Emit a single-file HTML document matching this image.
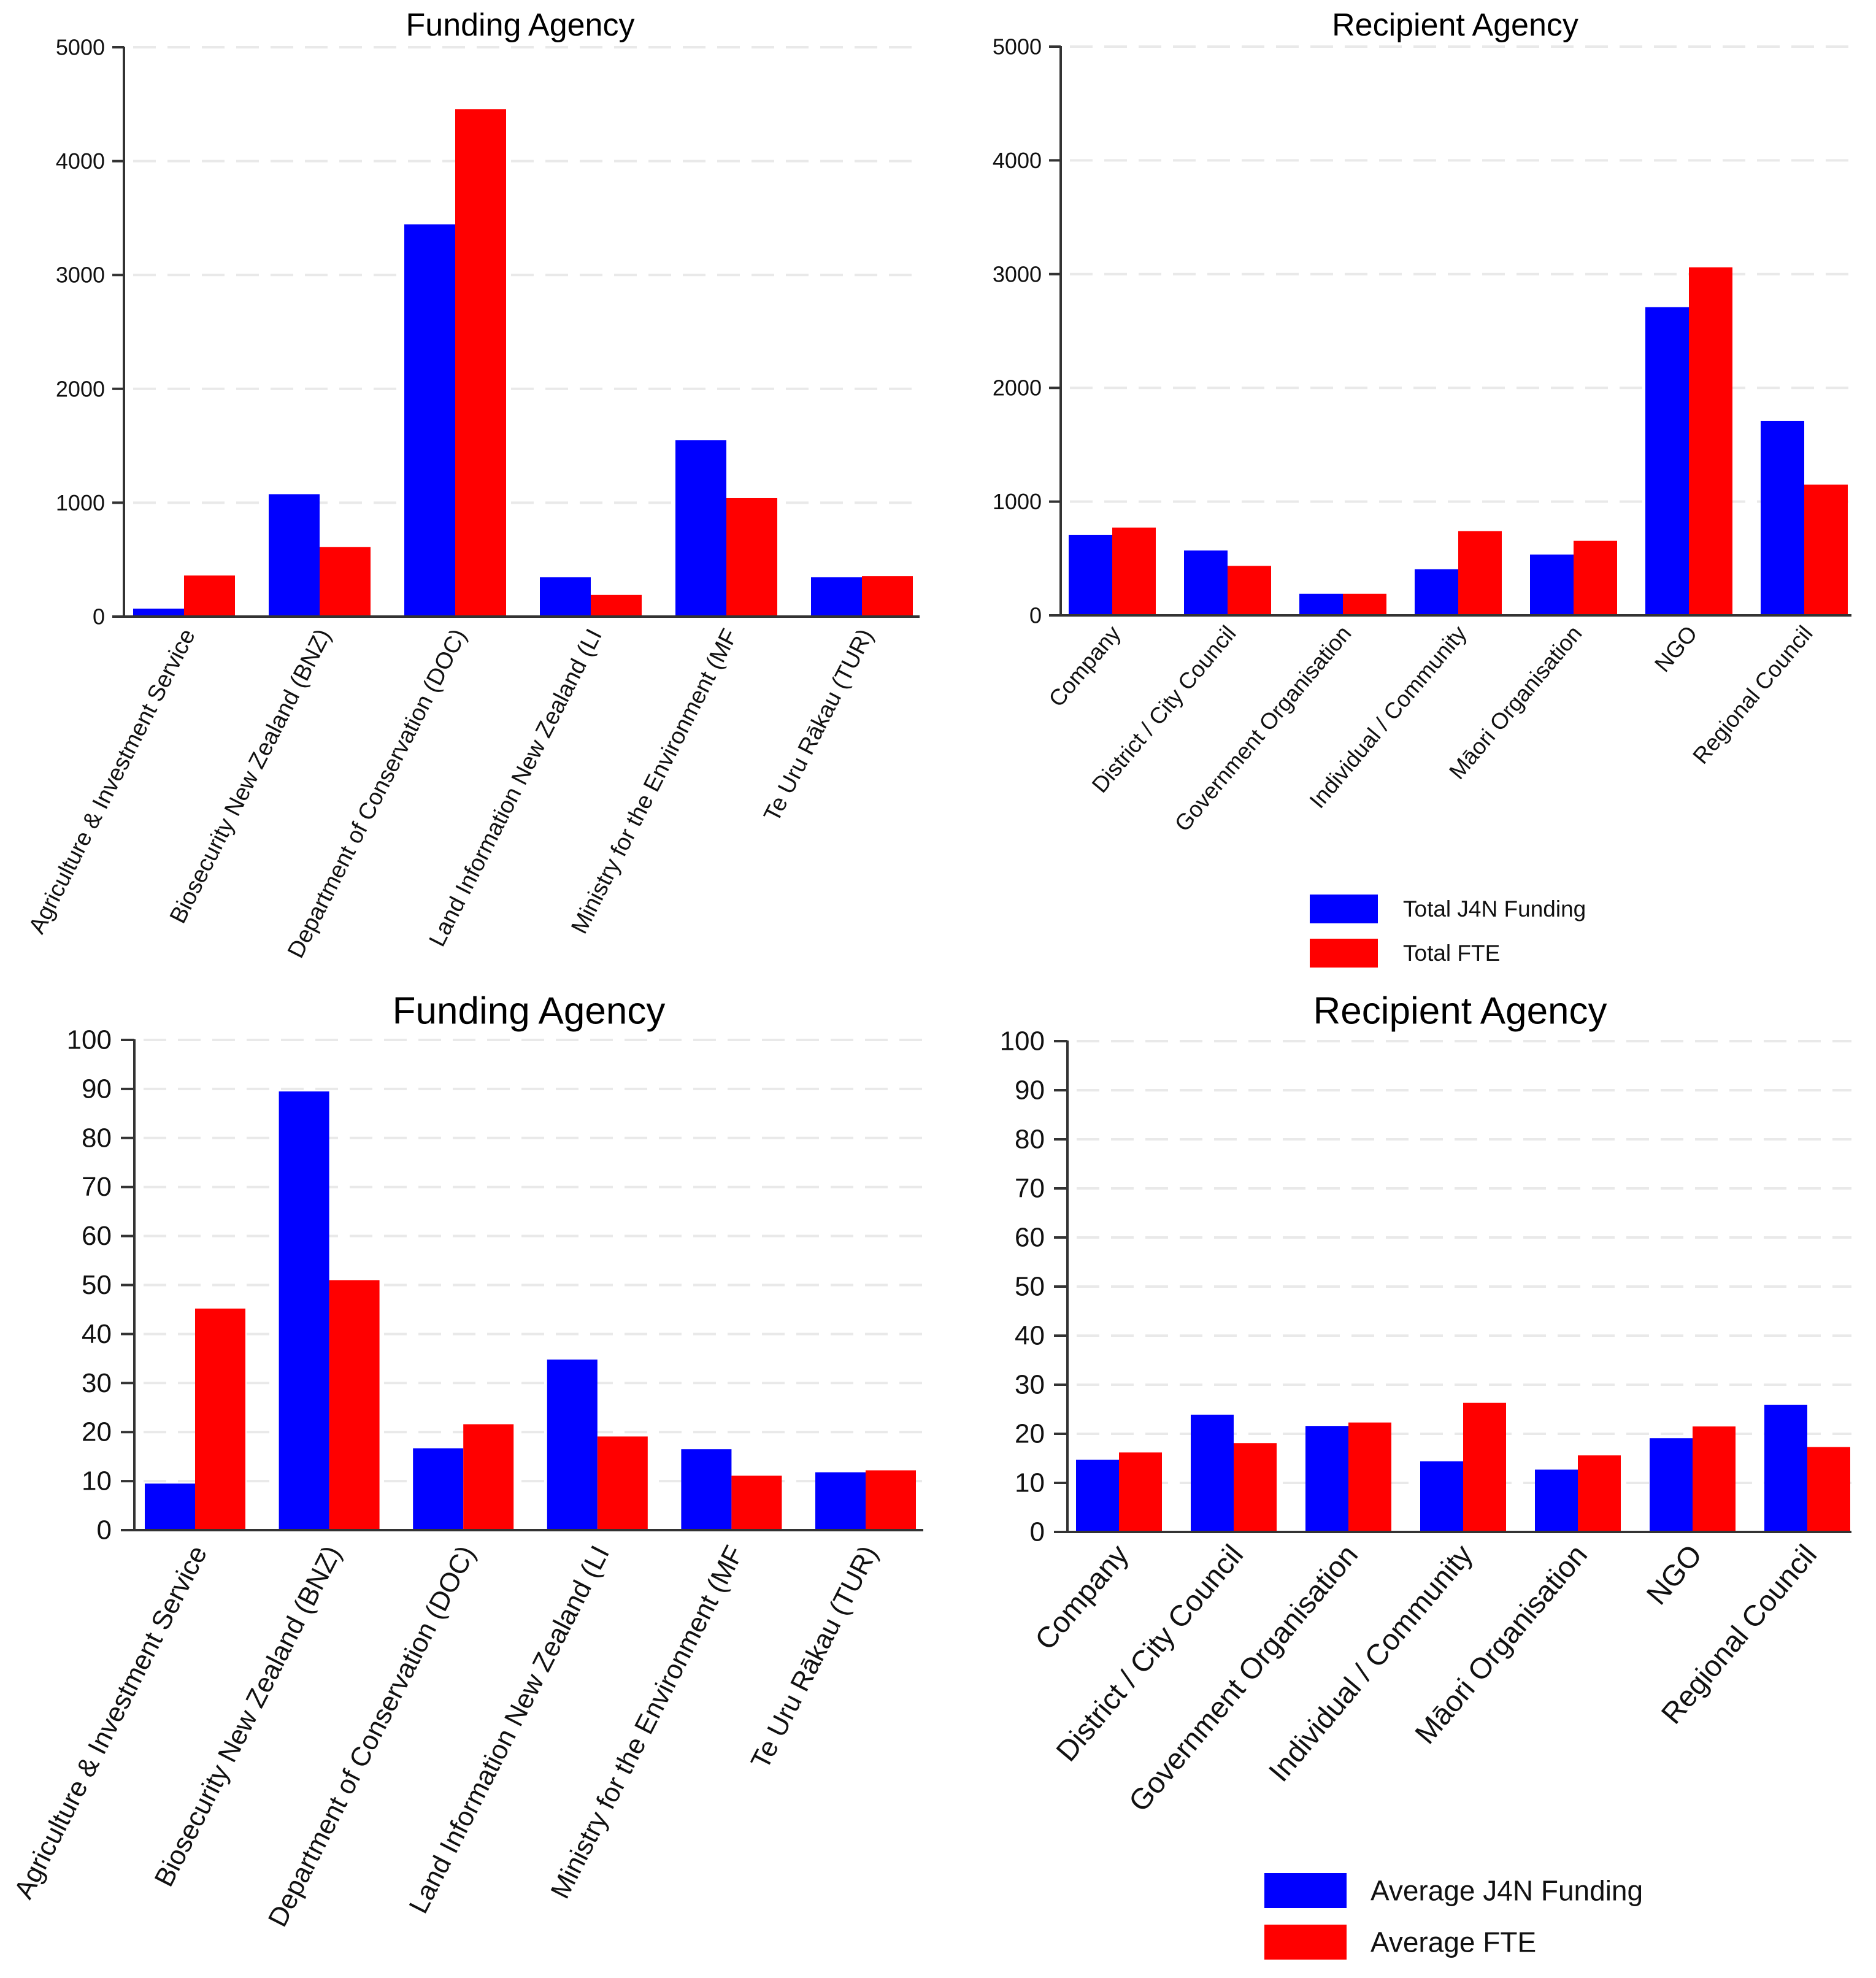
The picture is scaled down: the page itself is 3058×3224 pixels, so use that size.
<!DOCTYPE html>
<html><head><meta charset="utf-8"><style>
html,body{margin:0;padding:0;background:#fff;}
svg{display:block;font-family:"Liberation Sans",Arial,sans-serif;}
</style></head><body>
<svg id="root" width="3058" height="3224" viewBox="0 0 3058 3224" xmlns="http://www.w3.org/2000/svg"></svg>
<script>
const fundingCats = ["Agriculture & Investment Service","Biosecurity New Zealand (BNZ)","Department of Conservation (DOC)","Land Information New Zealand (LI","Ministry for the Environment (MF","Te Uru Rākau (TUR)"];
const recipientCats = ["Company","District / City Council","Government Organisation","Individual / Community","Māori Organisation","NGO","Regional Council"];
const totalFundingByFunder = [70,1075,3445,345,1550,345];
const totalFteByFunder = [361,610,4455,190,1040,355];
const totalFundingByRecipient = [707,570,190,405,535,2710,1710];
const totalFteByRecipient = [772,435,190,740,655,3060,1150];
const avgFundingByFunder = [9.5,89.5,16.7,34.8,16.5,11.8];
const avgFteByFunder = [45.2,51,21.6,19.1,11.1,12.2];
const avgFundingByRecipient = [14.7,23.9,21.6,14.4,12.7,19.1,25.9];
const avgFteByRecipient = [16.2,18.1,22.3,26.3,15.6,21.5,17.3];
const ticksTotal = [0,1000,2000,3000,4000,5000];
const ticksAvg = [0,10,20,30,40,50,60,70,80,90,100];

const NS="http://www.w3.org/2000/svg";
const root=document.getElementById('root');
function mk(tag,attrs,parent){const e=document.createElementNS(NS,tag);for(const k in attrs)e.setAttribute(k,attrs[k]);(parent||root).appendChild(e);return e;}

function chart(c){
  const g=mk('g',{});
  
  
  const yMax=c.ticks[c.ticks.length-1];
  const y=v=>c.y0-(v/yMax)*(c.y0-c.yTop);
  const x=i=>c.first+i*c.step;
  c.ticks.forEach(t=>{
    if(t===0)return;
    const gl=mk('line',{x1:c.ax+3,x2:c.right,y1:y(t),y2:y(t),stroke:'#e9e9e9','stroke-width':4,'stroke-dasharray':'37 19','stroke-dashoffset':'-12'},g);
    
    
  });
  c.cats.forEach((cat,i)=>{
    const b1=mk('rect',{x:x(i),y:y(c.s1[i]),width:c.bw,height:c.y0-y(c.s1[i]),fill:'#0000ff'},g);
    
    
    const b2=mk('rect',{x:x(i)+c.bw,y:y(c.s2[i]),width:c.bw,height:c.y0-y(c.s2[i]),fill:'#ff0000'},g);
    
    
    const lx=x(i)+c.bw+c.lox, ly=c.y0+c.loy;
    const t=mk('text',{x:lx,y:ly,'font-size':c.lfs,'text-anchor':'end','dominant-baseline':'middle',fill:'#111',transform:`rotate(${-c.angle} ${lx} ${ly})`},g);
    t.textContent=cat;
    
    
  });
  const ya=mk('line',{x1:c.ax,x2:c.ax,y1:c.yTop-1,y2:c.y0,stroke:'#333','stroke-width':4},g);
  
  
  const xa=mk('line',{x1:c.ax-c.tl,x2:c.right,y1:c.y0,y2:c.y0,stroke:'#333','stroke-width':4},g);
  
  
  c.ticks.forEach(t=>{
    const tk=mk('line',{x1:c.ax-c.tl,x2:c.ax,y1:y(t),y2:y(t),stroke:'#333','stroke-width':4},g);
    
    
    const tx=mk('text',{x:c.ax-c.tl-c.tg,y:y(t),'font-size':c.tfs,'text-anchor':'end','dominant-baseline':'central',fill:'#111'},g);
    tx.textContent=String(t);
    
    
  });
  const ti=mk('text',{x:c.tx,y:c.ty,'font-size':c.titfs,'text-anchor':'middle','dominant-baseline':'central',fill:'#000'},g);
  ti.textContent=c.title;
  
  
}

chart({name:'total-by-funding-agency',title:'Funding Agency',cats:fundingCats,s1:totalFundingByFunder,s2:totalFteByFunder,ticks:ticksTotal,
  ax:202,y0:1005,yTop:77,right:1499,first:217,step:221,bw:83,tl:19,tg:12,tfs:36,lfs:38,angle:63,lox:10,loy:24,tx:848,ty:41,titfs:52});
chart({name:'total-by-recipient-agency',title:'Recipient Agency',cats:recipientCats,s1:totalFundingByRecipient,s2:totalFteByRecipient,ticks:ticksTotal,
  ax:1729,y0:1003,yTop:76,right:3018,first:1742,step:188,bw:71,tl:19,tg:12,tfs:36,lfs:37,angle:50,lox:8,loy:24,tx:2372,ty:41,titfs:52});
chart({name:'average-by-funding-agency',title:'Funding Agency',cats:fundingCats,s1:avgFundingByFunder,s2:avgFteByFunder,ticks:ticksAvg,
  ax:219,y0:2494,yTop:1695,right:1505,first:236,step:218.6,bw:82,tl:22,tg:15,tfs:44,lfs:44,angle:63,lox:10,loy:30,tx:862,ty:1648,titfs:62});
chart({name:'average-by-recipient-agency',title:'Recipient Agency',cats:recipientCats,s1:avgFundingByRecipient,s2:avgFteByRecipient,ticks:ticksAvg,
  ax:1740,y0:2497,yTop:1697,right:3018,first:1754,step:187,bw:70,tl:22,tg:15,tfs:44,lfs:48,angle:50,lox:8,loy:30,tx:2380,ty:1648,titfs:62});

function legend(name,x,y1,y2,w,h,tx,fs,l1,l2){
  const g=mk('g',{});
  
  
  const r1=mk('rect',{x:x,y:y1,width:w,height:h,fill:'#0000ff'},g);
  
  
  const t1=mk('text',{x:tx,y:y1+h/2,'font-size':fs,'dominant-baseline':'central',fill:'#111'},g);
  t1.textContent=l1;
  
  
  const r2=mk('rect',{x:x,y:y2,width:w,height:h,fill:'#ff0000'},g);
  
  
  const t2=mk('text',{x:tx,y:y2+h/2,'font-size':fs,'dominant-baseline':'central',fill:'#111'},g);
  t2.textContent=l2;
  
  
}
legend('legend-totals',2135,1458,1530,111,47,2287,37,'Total J4N Funding','Total FTE');
legend('legend-averages',2061,3053,3137,134,57,2234,46,'Average J4N Funding','Average FTE');
</script>
</body></html>
